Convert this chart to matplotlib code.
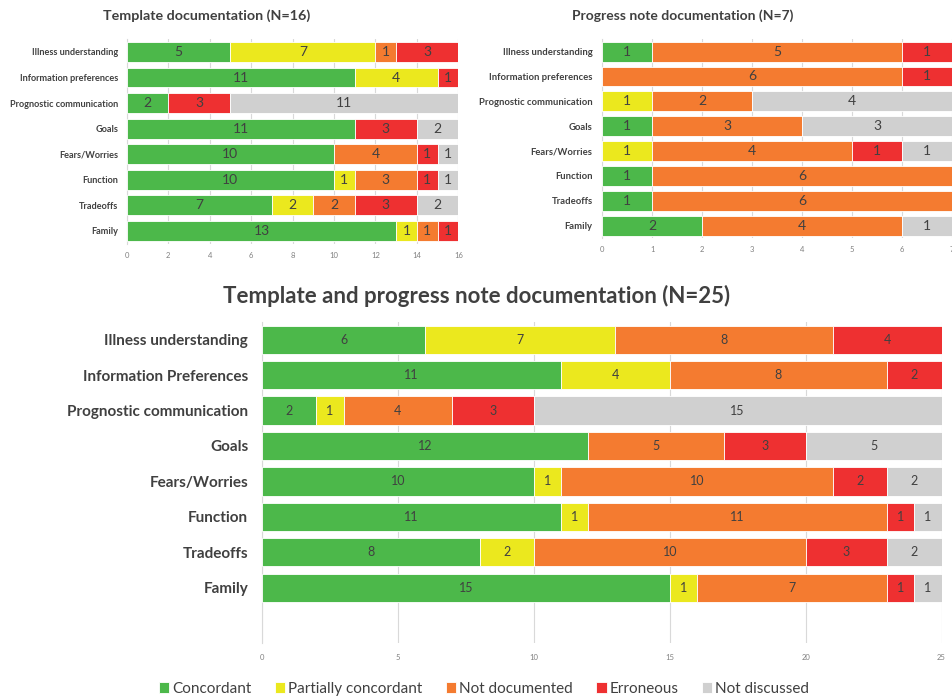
import matplotlib.pyplot as plt
import numpy as np

categories = ['Concordant', 'Partially concordant', 'Not documented', 'Erroneous', 'Not discussed']
colors = ['#4cb84a', '#ebe81e', '#f47b30', '#ee3031', '#d0d0d0']

# rows for the two small charts
rows_top = ['Illness understanding', 'Information preferences', 'Prognostic communication',
            'Goals', 'Fears/Worries', 'Function', 'Tradeoffs', 'Family']
rows_all = ['Illness understanding', 'Information Preferences', 'Prognostic communication',
            'Goals', 'Fears/Worries', 'Function', 'Tradeoffs', 'Family']

# counts per row: concordant, partial, not documented, erroneous, not discussed
template = np.array([
    [5, 7, 1, 3, 0],
    [11, 4, 0, 1, 0],
    [2, 0, 0, 3, 11],
    [11, 0, 0, 3, 2],
    [10, 0, 4, 1, 1],
    [10, 1, 3, 1, 1],
    [7, 2, 2, 3, 2],
    [13, 1, 1, 1, 0],
])
progress = np.array([
    [1, 0, 5, 1, 0],
    [0, 0, 6, 1, 0],
    [0, 1, 2, 0, 4],
    [1, 0, 3, 0, 3],
    [0, 1, 4, 1, 1],
    [1, 0, 6, 0, 0],
    [1, 0, 6, 0, 0],
    [2, 0, 4, 0, 1],
])
combined = np.array([
    [6, 7, 8, 4, 0],
    [11, 4, 8, 2, 0],
    [2, 1, 4, 3, 15],
    [12, 0, 5, 3, 5],
    [10, 1, 10, 2, 2],
    [11, 1, 11, 1, 1],
    [8, 2, 10, 3, 2],
    [15, 1, 7, 1, 1],
])

plt.rcParams['font.family'] = ['Lato', 'DejaVu Sans']
text_col = '#404040'
grid_col = '#d9d9d9'


def stacked(ax, labels, data, xmax, step, title, title_size, label_size, value_size,
            tick_size, height, extra, ypad):
    y = np.arange(len(labels))
    left = np.zeros(len(labels))
    for j, cat in enumerate(categories):
        vals = data[:, j]
        bars = ax.barh(y, vals, left=left, height=height, color=colors[j],
                       edgecolor='white', linewidth=0.6, label=cat, zorder=3)
        for rect, v in zip(bars, vals):
            if v > 0:
                ax.text(rect.get_x() + rect.get_width() / 2, rect.get_y() + rect.get_height() / 2,
                        str(v), ha='center', va='center', fontsize=value_size,
                        color=text_col, zorder=4)
        left += vals
    ax.set_xlim(0, xmax)
    ax.set_ylim(len(labels) - 0.5 + extra, -0.5)
    ax.set_yticks(y)
    ax.set_yticklabels(labels, fontsize=label_size, fontweight='bold', color=text_col)
    ax.set_xticks(np.arange(0, xmax + 0.01, step))
    ax.tick_params(axis='x', labelsize=tick_size, colors='#808080', length=0, pad=6)
    ax.tick_params(axis='y', length=0, pad=ypad)
    ax.grid(axis='x', color=grid_col, linewidth=0.8, zorder=0)
    for s in ['top', 'right', 'bottom']:
        ax.spines[s].set_visible(False)
    ax.spines['left'].set_color(grid_col)
    ax.set_title(title, fontsize=title_size, fontweight='bold', color=text_col, pad=14)


fig = plt.figure(figsize=(9.53, 7.0), dpi=100)

ax1 = fig.add_axes([0.133, 0.652, 0.348, 0.292])
stacked(ax1, rows_top, template, 16, 2, 'Template documentation (N=16)',
        10.3, 6.6, 10, 5.5, 0.78, 0.0, 6)
ax1.title.set_position((0.24, 1.0))

ax2 = fig.add_axes([0.632, 0.660, 0.367, 0.284])
stacked(ax2, rows_top, progress, 7, 1, 'Progress note documentation (N=7)',
        10, 6.8, 10, 5.5, 0.8, 0.0, 7)
ax2.title.set_position((0.23, 1.0))

ax3 = fig.add_axes([0.275, 0.082, 0.713, 0.458])
stacked(ax3, rows_all, combined, 25, 5, 'Template and progress note documentation (N=25)',
        16, 11, 9, 5.5, 0.8, 1.05, 10)
ax3.title.set_position((0.315, 1.0))
ax3.tick_params(axis='x', pad=8)

handles, labs = ax3.get_legend_handles_labels()
fig.legend(handles, labs, loc='center', bbox_to_anchor=(0.508, 0.016), ncol=5, frameon=False,
           handlelength=0.7, handleheight=0.7, handletextpad=0.2,
           columnspacing=1.5, labelcolor=text_col, fontsize=11)

fig.savefig('out.png', dpi=100)
